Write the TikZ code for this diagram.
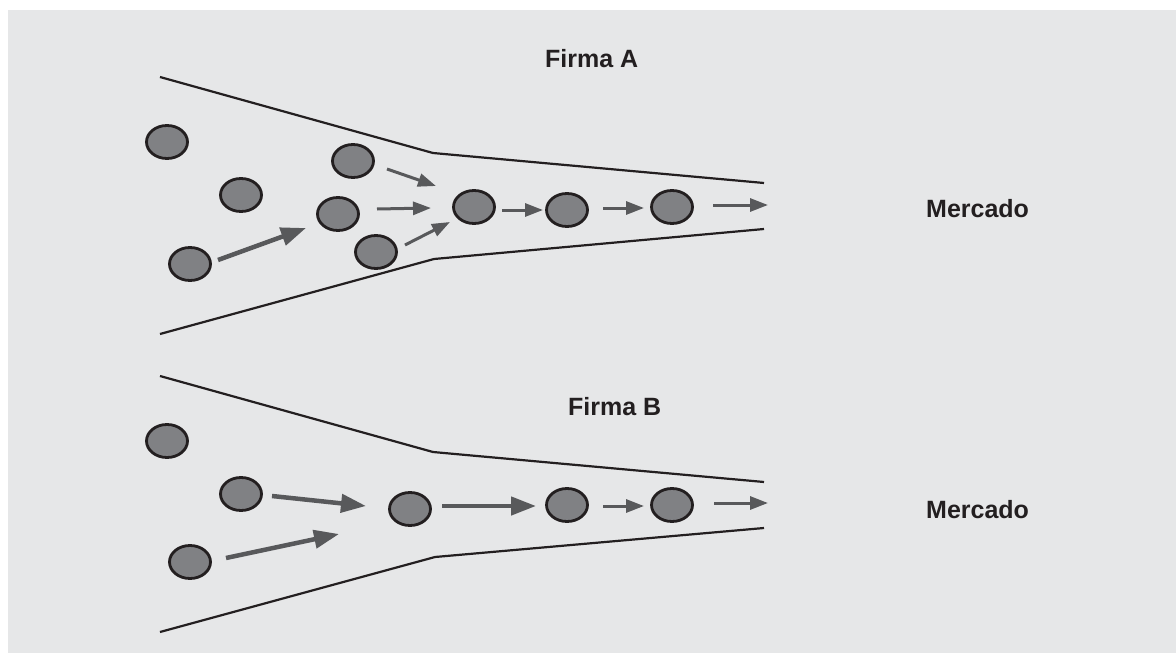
\documentclass[tikz,border=0pt]{standalone}
\usepackage{fontspec}
\setmainfont{Liberation Sans}
\usetikzlibrary{arrows.meta,shapes.geometric}
\definecolor{panel}{HTML}{E6E7E8}
\definecolor{dotfill}{HTML}{808184}
\definecolor{ink}{HTML}{231F20}
\definecolor{flow}{HTML}{58595B}
\tikzset{
  unit/.style={ellipse, draw=ink, fill=dotfill, line width=2.8pt,
    minimum width=41pt, minimum height=33pt, inner sep=0pt},
  wall/.style={draw=ink, line width=2.2pt, line join=miter},
  thin flow/.style={draw=flow, line width=3pt,
    -{Triangle[length=18pt,width=13pt]}},
  thick flow/.style={draw=flow, line width=4.5pt,
    -{Triangle[length=25pt,width=18pt]}},
  label/.style={anchor=base west, inner sep=0pt, font=\bfseries\fontsize{25}{30}\selectfont, text=ink}
}
\begin{document}
\begin{tikzpicture}[x=1pt,y=-1pt]
\useasboundingbox (0,0) rectangle (1176,653);
\fill[panel] (8,10) rectangle (1176,653);

% ---------- Firma A ----------
\draw[wall] (160,77) -- (433,153) -- (764,183);
\draw[wall] (160,334) -- (434,259) -- (764,229);

\node[unit] (a1) at (167,142) {};
\node[unit] (a2) at (241,195) {};
\node[unit] (a3) at (190,264) {};
\node[unit] (a4) at (353,161) {};
\node[unit] (a5) at (338,214) {};
\node[unit] (a6) at (376,252) {};
\node[unit] (a7) at (474,207) {};
\node[unit] (a8) at (567,210) {};
\node[unit] (a9) at (672,207) {};

\coordinate (a3s) at (218,260);  \coordinate (a3e) at (306,228);
\coordinate (a4s) at (387,169);  \coordinate (a4e) at (436,186);
\coordinate (a5s) at (377,209);  \coordinate (a5e) at (431,208);
\coordinate (a6s) at (405,245);  \coordinate (a6e) at (450,222);
\coordinate (a7s) at (502,210);  \coordinate (a7e) at (543,210);
\coordinate (a8s) at (603,208);  \coordinate (a8e) at (644,208);
\coordinate (a9s) at (713,205);  \coordinate (a9e) at (768,205);

\draw[thick flow] (a3s) -- (a3e);
\draw[thin flow] (a4s) -- (a4e);
\draw[thin flow] (a5s) -- (a5e);
\draw[thin flow] (a6s) -- (a6e);
\draw[thin flow] (a7s) -- (a7e);
\draw[thin flow] (a8s) -- (a8e);
\draw[thin flow] (a9s) -- (a9e);

\node[label] (firmaA) at (545,67) {Firma A};
\node[label] (mercadoA) at (926,217) {Mercado};

% ---------- Firma B ----------
\draw[wall] (160,376) -- (433,452) -- (764,482);
\draw[wall] (160,632) -- (435,557) -- (764,528);

\node[unit] (b1) at (167,441) {};
\node[unit] (b2) at (241,494) {};
\node[unit] (b3) at (190,562) {};
\node[unit] (b4) at (410,509) {};
\node[unit] (b5) at (567,505) {};
\node[unit] (b6) at (672,505) {};

\coordinate (b2s) at (272,496);  \coordinate (b2e) at (366,506);
\coordinate (b3s) at (226,558);  \coordinate (b3e) at (339,534);
\coordinate (b4s) at (442,506);  \coordinate (b4e) at (536,506);
\coordinate (b5s) at (603,506);  \coordinate (b5e) at (644,506);
\coordinate (b6s) at (714,503);  \coordinate (b6e) at (768,503);

\draw[thick flow] (b2s) -- (b2e);
\draw[thick flow] (b3s) -- (b3e);
\draw[thick flow] (b4s) -- (b4e);
\draw[thin flow] (b5s) -- (b5e);
\draw[thin flow] (b6s) -- (b6e);

\node[label] (firmaB) at (568,415) {Firma B};
\node[label] (mercadoB) at (926,518) {Mercado};
\end{tikzpicture}
\end{document}
